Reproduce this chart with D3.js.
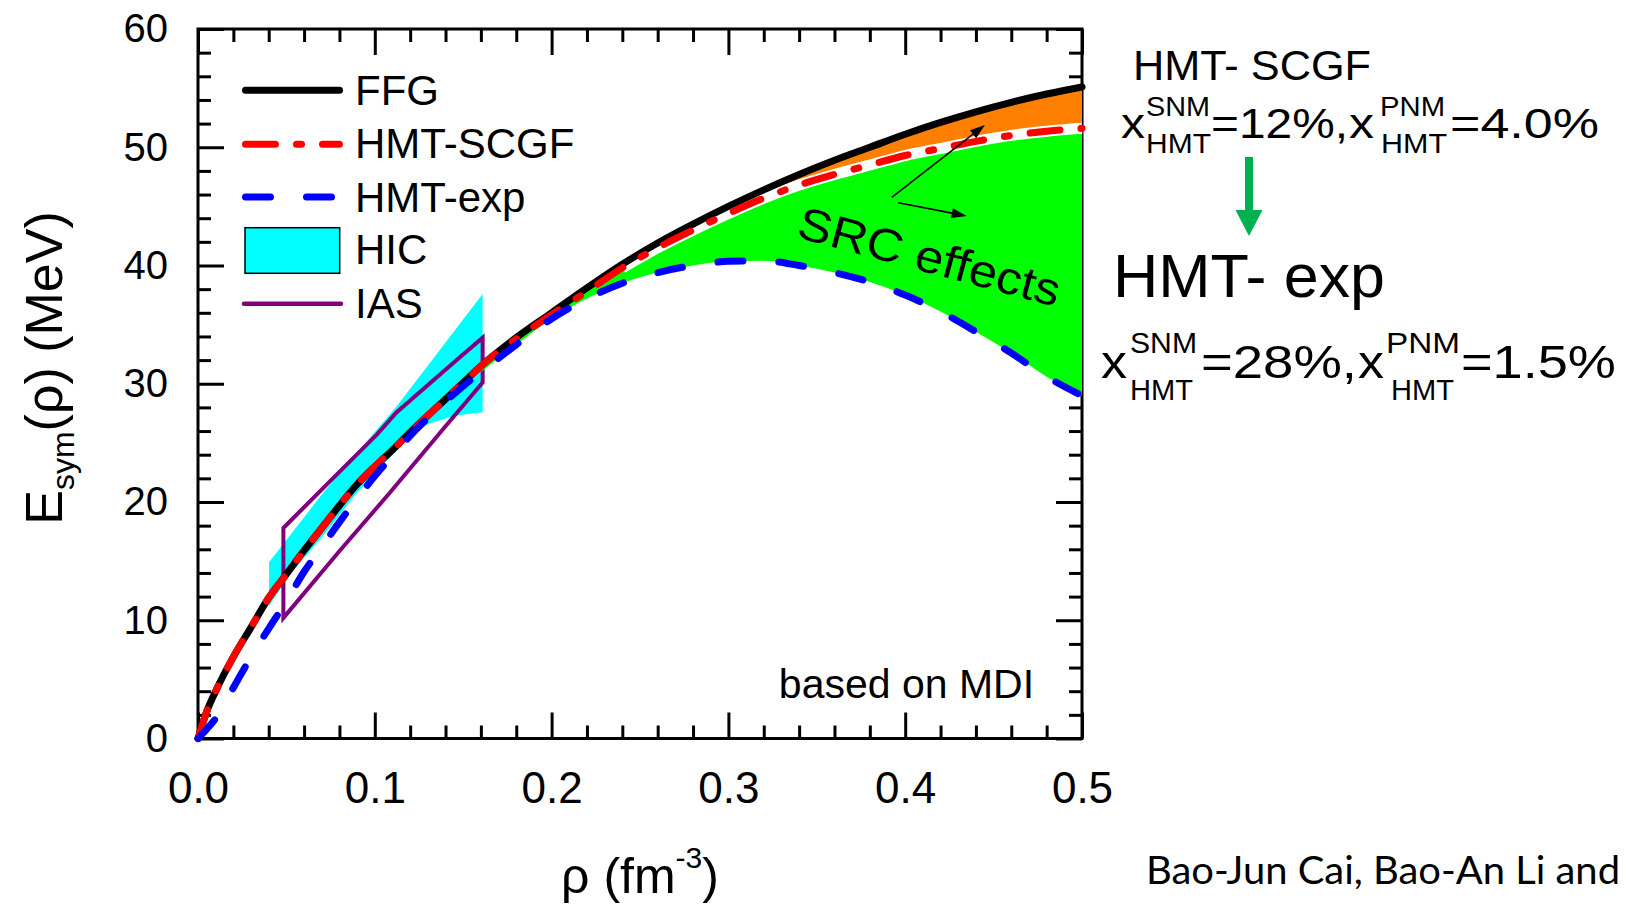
<!DOCTYPE html>
<html>
<head>
<meta charset="utf-8">
<script src="https://cdn.jsdelivr.net/npm/d3@7"></script>
<style>
  body { margin: 0; background: #fff; }
  svg { display: block; }
  text { font-family: "Liberation Sans", Arial, Helvetica, sans-serif; fill: #000; }
</style>
</head>
<body>
<svg id="chart" width="1626" height="904"></svg>
<script>
// ---- density grid (fm^-3) and symmetry energies (MeV) ----
const rho = [0, 0.005, 0.01, 0.02, 0.03, 0.04, 0.05, 0.06, 0.07, 0.08, 0.09, 0.10, 0.11, 0.12,
  0.13, 0.14, 0.15, 0.16, 0.18, 0.20, 0.22, 0.24, 0.26, 0.28, 0.30, 0.32, 0.34, 0.36, 0.38,
  0.40, 0.42, 0.44, 0.46, 0.48, 0.50];

const esymFFG = [0, 2.3, 4.0, 6.9, 9.4, 11.9, 13.9, 15.9, 17.8, 19.7, 21.5, 23.0, 24.4, 25.9,
  27.3, 28.7, 30.1, 31.5, 33.9, 36.0, 38.1, 40.1, 41.9, 43.5, 45.0, 46.4, 47.7, 48.9, 50.0,
  51.1, 52.1, 53.0, 53.8, 54.5, 55.1];

const esymSCGF = [0, 2.3, 4.0, 6.9, 9.4, 11.9, 13.9, 15.9, 17.8, 19.7, 21.5, 23.0, 24.4, 25.9,
  27.3, 28.7, 30.1, 31.5, 33.8, 35.85, 37.8, 39.8, 41.5, 43.0, 44.4, 45.7, 46.8, 47.7, 48.5,
  49.3, 49.9, 50.5, 51.0, 51.35, 51.6];

const esymExp = [0, 0.8, 1.7, 4.3, 6.9, 9.3, 11.6, 14.1, 16.2, 18.3, 20.3, 22.2, 23.9, 25.6,
  27.1, 28.5, 29.8, 31.0, 33.3, 35.5, 37.2, 38.5, 39.4, 40.0, 40.35, 40.4, 40.0, 39.4, 38.6,
  37.5, 36.1, 34.4, 32.6, 30.6, 29.0];

// HIC constraint band (outline, clockwise)
const hicRho = [0.0402, 0.0709, 0.1124, 0.161, 0.161, 0.145, 0.13, 0.12, 0.11, 0.09, 0.07, 0.052, 0.0402];
const hicE   = [14.9, 20.8, 28.1, 37.6, 27.6, 27.3, 26.6, 25.6, 24.0, 20.8, 17.0, 13.9, 11.2];

// IAS constraint contour (outline, clockwise)
const iasRho = [0.0483, 0.0709, 0.1011, 0.1124, 0.1463, 0.161, 0.161, 0.1388, 0.1086, 0.0803, 0.0483];
const iasE   = [17.8, 21.2, 25.7, 27.6, 32.0, 33.9, 30.1, 26.2, 20.8, 15.9, 10.2];

// axis ticks
const xMajor = [0, 0.1, 0.2, 0.3, 0.4, 0.5];
const xMinor = d3.range(0, 0.5001, 0.02).filter(v => Math.abs(v * 10 - Math.round(v * 10)) > 1e-6);
const yMajor = [0, 10, 20, 30, 40, 50, 60];
const yMinor = d3.range(0, 60.01, 2).filter(v => v % 10 !== 0);

const legendLabels = ["FFG", "HMT-SCGF", "HMT-exp", "HIC", "IAS"];

// ---- colours ----
const C = {
  ffg: "#000000", scgf: "#ff0000", exp: "#0000ff", hic: "#00ffff", ias: "#800080",
  orange: "#ff8000", green: "#00ff00", arrow: "#00b050"
};

const svg = d3.select("#chart");
const x = d3.scaleLinear().domain([0, 0.5]).range([198, 1082]);
const y = d3.scaleLinear().domain([0, 60]).range([738.5, 29]);
const FONT = '"Liberation Sans", Arial, Helvetica, sans-serif';

// ---- axes ----
function styleAxis(g, fs) {
  g.select(".domain").remove();
  g.attr("font-family", FONT);
  g.selectAll(".tick line").attr("stroke", "#000").attr("stroke-width", 3);
  g.selectAll(".tick text").attr("font-size", fs).attr("fill", "#000");
}
const axesLayer = svg.append("g");
// bottom
styleAxis(axesLayer.append("g").attr("transform", `translate(0,${y(0)})`)
  .call(d3.axisBottom(x).tickValues(xMajor).tickSizeInner(-26).tickSizeOuter(0)
    .tickPadding(33).tickFormat(d3.format(".1f"))), 44);
styleAxis(axesLayer.append("g").attr("transform", `translate(0,${y(0)})`)
  .call(d3.axisBottom(x).tickValues(xMinor).tickSizeInner(-13).tickSizeOuter(0).tickFormat("")), 0);
// top
styleAxis(axesLayer.append("g").attr("transform", `translate(0,${y(60)})`)
  .call(d3.axisTop(x).tickValues(xMajor).tickSizeInner(-26).tickSizeOuter(0).tickFormat("")), 0);
styleAxis(axesLayer.append("g").attr("transform", `translate(0,${y(60)})`)
  .call(d3.axisTop(x).tickValues(xMinor).tickSizeInner(-13).tickSizeOuter(0).tickFormat("")), 0);
// left
styleAxis(axesLayer.append("g").attr("transform", `translate(${x(0)},0)`)
  .call(d3.axisLeft(y).tickValues(yMajor).tickSizeInner(-26).tickSizeOuter(0)
    .tickPadding(30).tickFormat(d3.format("d"))), 40);
styleAxis(axesLayer.append("g").attr("transform", `translate(${x(0)},0)`)
  .call(d3.axisLeft(y).tickValues(yMinor).tickSizeInner(-13).tickSizeOuter(0).tickFormat("")), 0);
// right
styleAxis(axesLayer.append("g").attr("transform", `translate(${x(0.5)},0)`)
  .call(d3.axisRight(y).tickValues(yMajor).tickSizeInner(-26).tickSizeOuter(0).tickFormat("")), 0);
styleAxis(axesLayer.append("g").attr("transform", `translate(${x(0.5)},0)`)
  .call(d3.axisRight(y).tickValues(yMinor).tickSizeInner(-13).tickSizeOuter(0).tickFormat("")), 0);
// frame
axesLayer.append("rect")
  .attr("x", x(0)).attr("y", y(60))
  .attr("width", x(0.5) - x(0)).attr("height", y(0) - y(60))
  .attr("fill", "none").attr("stroke", "#000").attr("stroke-width", 3);

// axis titles
const yTitle = svg.append("text")
  .attr("transform", "translate(62,368) rotate(-90)")
  .attr("text-anchor", "middle").attr("font-size", 52);
yTitle.append("tspan").text("E");
yTitle.append("tspan").attr("font-size", 32).attr("dy", 12).text("sym");
yTitle.append("tspan").attr("dy", -12).text("(\u03C1) (MeV)");

const xTitle = svg.append("text")
  .attr("x", (x(0) + x(0.5)) / 2).attr("y", 893)
  .attr("text-anchor", "middle").attr("font-size", 50);
xTitle.append("tspan").text("\u03C1 (fm");
xTitle.append("tspan").attr("font-size", 30).attr("dy", -25).text("-3");
xTitle.append("tspan").attr("dy", 25).text(")");

// ---- data layer ----
const pts = rho.map((r, i) => ({ r, f: esymFFG[i], s: esymSCGF[i], e: esymExp[i] }));
const upper = pts.filter(d => d.r >= 0.16);

const poly = (rs, es) => d3.line().x(d => x(d[0])).y(d => y(d[1]))(rs.map((r, i) => [r, es[i]])) + "Z";

// HIC band
svg.append("path").attr("d", poly(hicRho, hicE)).attr("fill", C.hic).attr("stroke", "none");

// IAS contour
svg.append("path").attr("d", poly(iasRho, iasE))
  .attr("fill", "none").attr("stroke", C.ias).attr("stroke-width", 4).attr("stroke-linejoin", "miter");

// orange band between FFG and HMT-SCGF
svg.append("path")
  .attr("d", d3.area().x(d => x(d.r)).y0(d => y(d.s)).y1(d => y(d.f)).curve(d3.curveMonotoneX)(upper))
  .attr("fill", C.orange);
// green band between HMT-SCGF and HMT-exp
svg.append("path")
  .attr("d", d3.area().x(d => x(d.r)).y0(d => y(d.e)).y1(d => y(d.s)).curve(d3.curveMonotoneX)(upper))
  .attr("fill", C.green);

const lineOf = key => d3.line().x(d => x(d.r)).y(d => y(d[key])).curve(d3.curveMonotoneX);

// white separation along HMT-SCGF where the bands open up
svg.append("path").attr("d", lineOf("s")(pts.filter(d => d.r >= 0.24)))
  .attr("fill", "none").attr("stroke", "#fff").attr("stroke-width", 11);

// FFG
svg.append("path").attr("d", lineOf("f")(pts))
  .attr("fill", "none").attr("stroke", C.ffg).attr("stroke-width", 7).attr("stroke-linecap", "round");
// HMT-SCGF (dash-dot)
svg.append("path").attr("d", lineOf("s")(pts))
  .attr("fill", "none").attr("stroke", C.scgf).attr("stroke-width", 7)
  .attr("stroke-linecap", "round").attr("stroke-dasharray", "30,21,5,21");
// HMT-exp (dashed)
svg.append("path").attr("d", lineOf("e")(pts))
  .attr("fill", "none").attr("stroke", C.exp).attr("stroke-width", 7)
  .attr("stroke-linecap", "round").attr("stroke-dasharray", "25,36");

// ---- SRC annotation ----
function arrow(g, x1, y1, x2, y2, w, len, half, color) {
  const a = Math.atan2(y2 - y1, x2 - x1);
  const bx = x2 - len * Math.cos(a), by = y2 - len * Math.sin(a);
  const nx = -Math.sin(a), ny = Math.cos(a);
  g.append("line").attr("x1", x1).attr("y1", y1).attr("x2", bx).attr("y2", by)
    .attr("stroke", color).attr("stroke-width", w);
  g.append("path")
    .attr("d", `M${x2},${y2}L${bx + half * nx},${by + half * ny}L${bx - half * nx},${by - half * ny}Z`)
    .attr("fill", color);
}
const ann = svg.append("g");
arrow(ann, x(0.3924), y(45.77), x(0.4451), y(51.88), 1.6, 15, 5, "#000");
arrow(ann, x(0.3961), y(45.31), x(0.4348), y(44.19), 1.6, 15, 5, "#000");
ann.append("text")
  .attr("x", x(0.3377)).attr("y", y(42.41))
  .attr("transform", `rotate(15,${x(0.3377)},${y(42.41)})`)
  .attr("font-size", 46).attr("textLength", 270).attr("lengthAdjust", "spacingAndGlyphs")
  .text("SRC effects");

svg.append("text")
  .attr("x", x(0.4729)).attr("y", y(3.42)).attr("text-anchor", "end")
  .attr("font-size", 41).text("based on MDI");

// ---- legend ----
const leg = svg.append("g");
const legY = [90.3, 144.3, 197, 250.5, 303.7];
const legBase = [105, 158, 211.7, 264, 317.7];
leg.append("line").attr("x1", 245.5).attr("x2", 339.5).attr("y1", legY[0]).attr("y2", legY[0])
  .attr("stroke", C.ffg).attr("stroke-width", 7).attr("stroke-linecap", "round");
leg.append("line").attr("x1", 245.5).attr("x2", 339.5).attr("y1", legY[1]).attr("y2", legY[1])
  .attr("stroke", C.scgf).attr("stroke-width", 7).attr("stroke-linecap", "round")
  .attr("stroke-dasharray", "30,21,5,21");
leg.append("line").attr("x1", 245.5).attr("x2", 339.5).attr("y1", legY[2]).attr("y2", legY[2])
  .attr("stroke", C.exp).attr("stroke-width", 7).attr("stroke-linecap", "round")
  .attr("stroke-dasharray", "25,36");
leg.append("rect").attr("x", 245).attr("y", 227.7).attr("width", 94.7).attr("height", 45.6)
  .attr("fill", C.hic).attr("stroke", "#000").attr("stroke-width", 1.5);
leg.append("line").attr("x1", 244).attr("x2", 341).attr("y1", legY[4]).attr("y2", legY[4])
  .attr("stroke", C.ias).attr("stroke-width", 4.5).attr("stroke-linecap", "round");
legendLabels.forEach((t, i) => {
  leg.append("text").attr("x", 355).attr("y", legBase[i]).attr("font-size", 42).text(t);
});

// ---- model parameters on the right ----
const side = svg.append("g");
function piece(t, px, py, fs, len) {
  side.append("text").attr("x", px).attr("y", py).attr("font-size", fs)
    .attr("textLength", len).attr("lengthAdjust", "spacingAndGlyphs").text(t);
}
piece("HMT- SCGF", 1133, 80, 42, 238);
piece("x", 1121, 138, 42, 24);
piece("SNM", 1146, 116, 28, 64);
piece("HMT", 1146, 153, 28, 65);
piece("=12%,", 1211, 138, 42, 137);
piece("x", 1349, 138, 42, 25);
piece("PNM", 1380, 116, 28, 65);
piece("HMT", 1381, 153, 28, 66);
piece("=4.0%", 1450, 138, 42, 149);

side.append("line").attr("x1", 1249).attr("x2", 1249).attr("y1", 157).attr("y2", 212)
  .attr("stroke", C.arrow).attr("stroke-width", 8);
side.append("path").attr("d", "M1235.5,210L1262.5,210L1249,236Z").attr("fill", C.arrow);

piece("HMT- exp", 1113, 297, 61, 272);
piece("x", 1101, 378, 46, 26);
piece("SNM", 1130, 353, 30, 67);
piece("HMT", 1130, 400, 30, 63);
piece("=28%,", 1201, 378, 46, 156);
piece("x", 1358, 378, 46, 26);
piece("PNM", 1386, 353, 30, 74);
piece("HMT", 1391, 400, 30, 63);
piece("=1.5%", 1461, 378, 46, 155);

// ---- credit line ----
svg.append("text").attr("x", 1146).attr("y", 883.5)
  .style("font-family", "Lato, 'Open Sans', sans-serif").attr("font-size", 38)
  .attr("textLength", 474).attr("lengthAdjust", "spacingAndGlyphs")
  .text("Bao-Jun Cai, Bao-An Li and");
</script>
</body>
</html>
